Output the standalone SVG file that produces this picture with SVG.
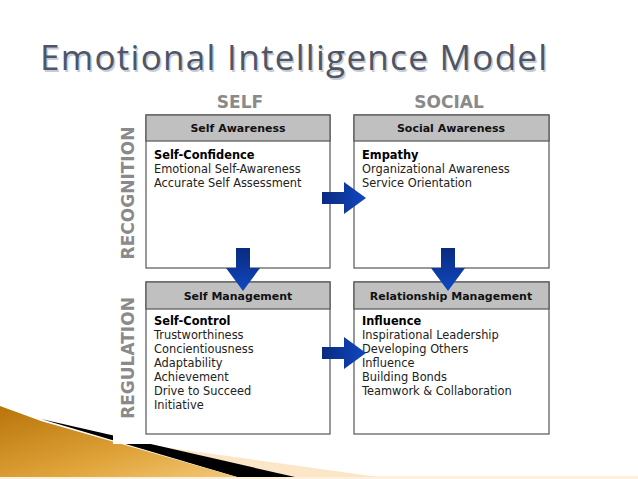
<svg xmlns="http://www.w3.org/2000/svg" width="638" height="479" viewBox="0 0 638 479">
<defs>
<linearGradient id="gold" x1="0" y1="0" x2="1" y2="1"><stop offset="0" stop-color="#b8740a"/><stop offset="0.6" stop-color="#e0a43a"/><stop offset="1" stop-color="#f3c878"/></linearGradient>
<linearGradient id="arr" x1="0" y1="0" x2="1" y2="0"><stop offset="0" stop-color="#0a2a80"/><stop offset="1" stop-color="#1048c0"/></linearGradient>
<linearGradient id="arrv" x1="0" y1="0" x2="0" y2="1"><stop offset="0" stop-color="#0a2a80"/><stop offset="1" stop-color="#1048c0"/></linearGradient>
</defs>
<style>
.box{fill:#fff;stroke:#555;stroke-width:1.2}
.hd{fill:#c0c0c0;stroke:#555;stroke-width:1.2}
.ht{font-family:"DejaVu Sans",Verdana,sans-serif;font-size:11px;font-weight:bold;fill:#111;text-anchor:middle}
.t{font-family:"DejaVu Sans",Verdana,sans-serif;font-size:11.4px;fill:#222}
.b{font-weight:bold;fill:#000}
.ax{font-family:"DejaVu Sans",Verdana,sans-serif;font-size:17px;font-weight:bold;fill:#8a8a8a;text-anchor:middle}
</style>
<rect width="638" height="479" fill="#fff"/>
<rect x="0" y="476" width="638" height="3" fill="#fdf0dc"/>
<polygon points="113,440 378,477 290,477 200,456" fill="#fbe6c8"/>
<polygon points="41,419 295,477 237,477" fill="#000"/>
<polygon points="0,406 41,421 237,477 0,477" fill="url(#gold)"/>
<rect x="113" y="380" width="217" height="64" fill="#fff"/>
<text x="40" y="70" font-family="'Open Sans','DejaVu Sans',sans-serif" font-size="35" letter-spacing="1.3" fill="#c8ccd4" transform="translate(1.5,1.5)">Emotional Intelligence Model</text>
<text x="40" y="70" font-family="'Open Sans','DejaVu Sans',sans-serif" font-size="35" letter-spacing="1.3" fill="#4e5566">Emotional Intelligence Model</text>
<text class="ax" x="240" y="108">SELF</text>
<text class="ax" x="449" y="108">SOCIAL</text>
<text class="ax" transform="translate(134,193) rotate(-90)">RECOGNITION</text>
<text class="ax" transform="translate(134,358) rotate(-90)">REGULATION</text>
<g id="self-awareness">
<rect class="box" x="146" y="115" width="184" height="153"/><rect class="hd" x="146" y="115" width="184" height="26"/>
<text class="ht" x="238" y="132">Self Awareness</text>
<text class="t" x="154" y="159"><tspan class="b">Self-Confidence</tspan><tspan x="154" dy="14">Emotional Self-Awareness</tspan><tspan x="154" dy="14">Accurate Self Assessment</tspan></text>
</g>
<g id="social-awareness">
<rect class="box" x="354" y="115" width="195" height="153"/><rect class="hd" x="354" y="115" width="195" height="26"/>
<text class="ht" x="451" y="132">Social Awareness</text>
<text class="t" x="362" y="159"><tspan class="b">Empathy</tspan><tspan x="362" dy="14">Organizational Awareness</tspan><tspan x="362" dy="14">Service Orientation</tspan></text>
</g>
<g id="self-management">
<rect class="box" x="146" y="282" width="184" height="152"/><rect class="hd" x="146" y="282" width="184" height="27"/>
<text class="ht" x="238" y="300">Self Management</text>
<text class="t" x="154" y="325"><tspan class="b">Self-Control</tspan><tspan x="154" dy="14">Trustworthiness</tspan><tspan x="154" dy="14">Concientiousness</tspan><tspan x="154" dy="14">Adaptability</tspan><tspan x="154" dy="14">Achievement</tspan><tspan x="154" dy="14">Drive to Succeed</tspan><tspan x="154" dy="14">Initiative</tspan></text>
</g>
<g id="relationship-management">
<rect class="box" x="354" y="282" width="195" height="152"/><rect class="hd" x="354" y="282" width="195" height="27"/>
<text class="ht" x="451" y="300">Relationship Management</text>
<text class="t" x="362" y="325"><tspan class="b">Influence</tspan><tspan x="362" dy="14">Inspirational Leadership</tspan><tspan x="362" dy="14">Developing Others</tspan><tspan x="362" dy="14">Influence</tspan><tspan x="362" dy="14">Building Bonds</tspan><tspan x="362" dy="14">Teamwork &amp; Collaboration</tspan></text>
</g>
<g id="connectors">
<polygon points="322,192 344,192 344,182 366,198 344,214 344,204 322,204" fill="url(#arr)"/>
<polygon points="322,347 344,347 344,337 366,353 344,369 344,359 322,359" fill="url(#arr)"/>
<polygon points="236,248 250,248 250,268 260,268 243,291 226,268 236,268" fill="url(#arrv)"/>
<polygon points="441,248 455,248 455,268 465,268 448,291 431,268 441,268" fill="url(#arrv)"/>
</g>
</svg>
